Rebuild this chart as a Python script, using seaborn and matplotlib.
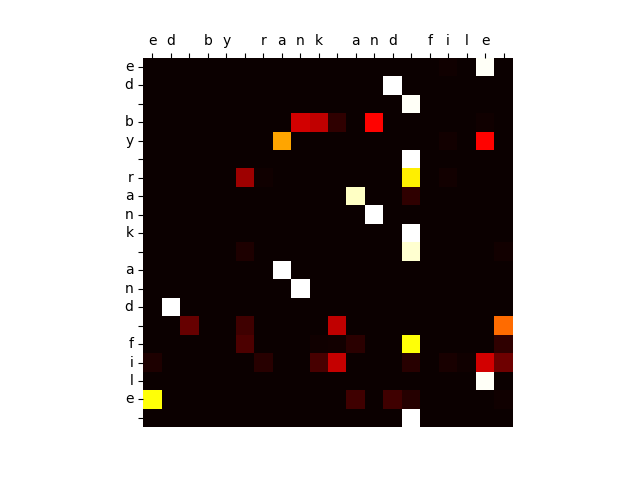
import numpy as np
import matplotlib
matplotlib.use("Agg")
import matplotlib.pyplot as plt
import seaborn as sns

# characters of the decoded / input sequence
col_chars = list("ed by rank and file ")
row_chars = list("ed by rank and file ")

# attention weights, one list per output character (row)
attn = [
    [0, 0, 0, 0, 0, 0, 0, 0, 0, 0, 0, 0, 0, 0, 0, 0, 0.01, 0, 0.99, 0],
    [0, 0, 0, 0, 0, 0, 0, 0, 0, 0, 0, 0, 0, 1.0, 0, 0, 0, 0, 0, 0],
    [0, 0, 0, 0, 0, 0, 0, 0, 0, 0, 0, 0, 0, 0, 0.99, 0, 0, 0, 0, 0],
    [0, 0, 0, 0, 0, 0, 0, 0, 0.30, 0.27, 0.056, 0, 0.37, 0, 0, 0, 0, 0, 0.01, 0],
    [0, 0, 0, 0, 0, 0, 0, 0.61, 0, 0, 0, 0, 0, 0, 0, 0, 0.015, 0, 0.37, 0],
    [0, 0, 0, 0, 0, 0, 0, 0, 0, 0, 0, 0, 0, 0, 1.0, 0, 0, 0, 0, 0],
    [0, 0, 0, 0, 0, 0.22, 0.01, 0, 0, 0, 0, 0, 0, 0, 0.72, 0, 0.015, 0, 0, 0],
    [0, 0, 0, 0, 0, 0, 0, 0, 0, 0, 0, 0.94, 0, 0, 0.056, 0, 0, 0, 0, 0],
    [0, 0, 0, 0, 0, 0, 0, 0, 0, 0, 0, 0, 1.0, 0, 0, 0, 0, 0, 0, 0],
    [0, 0, 0, 0, 0, 0, 0, 0, 0, 0, 0, 0, 0, 0, 1.0, 0, 0, 0, 0, 0],
    [0, 0, 0, 0, 0, 0.03, 0, 0, 0, 0, 0, 0, 0, 0, 0.95, 0, 0, 0, 0, 0.015],
    [0, 0, 0, 0, 0, 0, 0, 1.0, 0, 0, 0, 0, 0, 0, 0, 0, 0, 0, 0, 0],
    [0, 0, 0, 0, 0, 0, 0, 0, 1.0, 0, 0, 0, 0, 0, 0, 0, 0, 0, 0, 0],
    [0, 1.0, 0, 0, 0, 0, 0, 0, 0, 0, 0, 0, 0, 0, 0, 0, 0, 0, 0, 0],
    [0, 0, 0.14, 0, 0, 0.08, 0, 0, 0, 0, 0.27, 0, 0, 0, 0, 0, 0, 0, 0, 0.525],
    [0, 0, 0, 0, 0, 0.10, 0, 0, 0, 0.01, 0.015, 0.05, 0, 0, 0.75, 0, 0, 0, 0, 0.056],
    [0.03, 0, 0, 0, 0, 0, 0.045, 0, 0, 0.09, 0.28, 0, 0, 0, 0.045, 0, 0.02, 0.01, 0.30, 0.15],
    [0, 0, 0, 0, 0, 0, 0, 0, 0, 0, 0, 0, 0, 0, 0, 0, 0, 0, 0.99, 0],
    [0.75, 0, 0, 0, 0, 0, 0, 0, 0, 0, 0, 0.08, 0, 0.08, 0.04, 0, 0, 0, 0, 0.01],
    [0, 0, 0, 0, 0, 0, 0, 0, 0, 0, 0, 0, 0, 0, 1.0, 0, 0, 0, 0, 0],
]

fig, ax = plt.subplots(figsize=(6.4, 4.8), dpi=100)
sns.heatmap(np.array(attn), cmap="hot", vmin=0, vmax=1, cbar=False,
            square=True, xticklabels=col_chars, yticklabels=row_chars, ax=ax)

# ticks on top like matshow
ax.xaxis.tick_top()
ax.tick_params(axis="x", which="both", top=True, bottom=False,
               labeltop=True, labelbottom=False, length=3.5)
ax.tick_params(axis="y", length=3.5)
plt.setp(ax.get_yticklabels(), rotation=0)
plt.setp(ax.get_xticklabels(), rotation=0)

plt.savefig("out.png")
